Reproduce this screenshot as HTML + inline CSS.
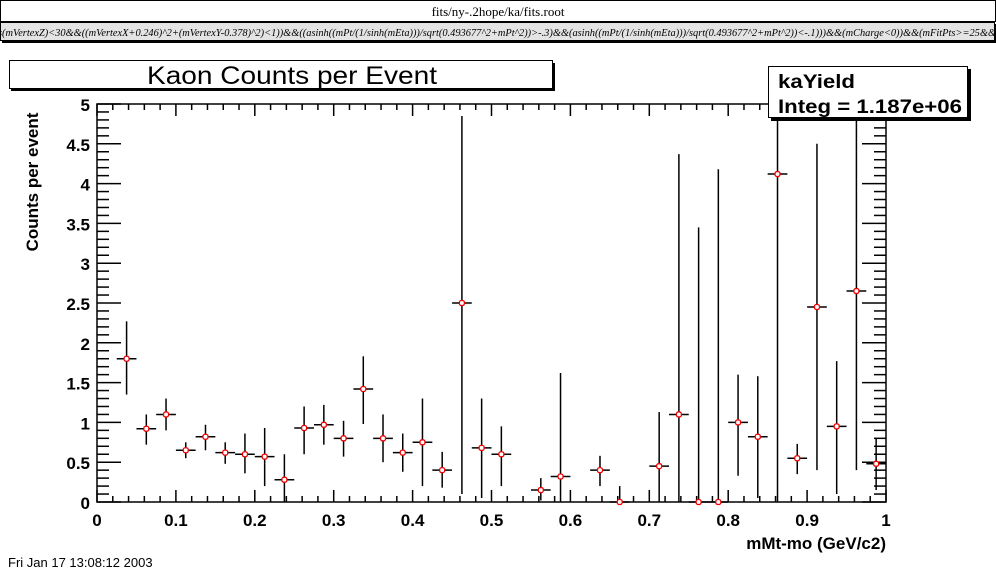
<!DOCTYPE html>
<html><head><meta charset="utf-8"><style>
body{margin:0;background:#fff;width:996px;height:572px;overflow:hidden}
svg{display:block}
text{font-family:"Liberation Sans",sans-serif}
</style></head><body>
<svg id="s" width="996" height="572" xmlns="http://www.w3.org/2000/svg">
<rect x="0" y="0" width="996" height="572" fill="#fff"/>
<rect x="0.5" y="0.5" width="995" height="21" fill="#fff" stroke="#000"/>
<text x="498" y="16" font-size="13" text-anchor="middle" style="font-family:'Liberation Serif',serif">fits/ny-.2hope/ka/fits.root</text>
<rect x="2" y="24" width="994" height="19" fill="#000"/>
<rect x="0.5" y="22.5" width="994" height="18" fill="#e4e4e4" stroke="#000"/>
<text x="-2" y="36" font-size="10" font-style="italic" textLength="998" lengthAdjust="spacingAndGlyphs" style="font-family:'Liberation Serif',serif">s(mVertexZ)&lt;30&amp;&amp;((mVertexX+0.246)^2+(mVertexY-0.378)^2)&lt;1))&amp;&amp;((asinh((mPt/(1/sinh(mEta)))/sqrt(0.493677^2+mPt^2))&gt;-.3)&amp;&amp;(asinh((mPt/(1/sinh(mEta)))/sqrt(0.493677^2+mPt^2))&lt;-.1)))&amp;&amp;(mCharge&lt;0))&amp;&amp;(mFitPts&gt;=25&amp;&amp;</text>
<rect x="11" y="63" width="544" height="28" fill="#000"/>
<rect x="9.5" y="60.5" width="543" height="28" fill="#fff" stroke="#000"/>
<text x="292" y="84" font-size="25" text-anchor="middle" textLength="290" lengthAdjust="spacingAndGlyphs">Kaon Counts per Event</text>
<text transform="translate(38,182) rotate(-90)" font-size="17" font-weight="bold" text-anchor="middle">Counts per event</text>
<text x="886" y="549" font-size="17" font-weight="bold" text-anchor="end">mMt-mo (GeV/c2)</text>
<text x="8" y="567" font-size="13">Fri Jan 17 13:08:12 2003</text>
<g id="g" stroke="#000" stroke-width="1.5" fill="none"></g>
<g id="t" font-size="17" font-weight="bold"></g>
<rect x="771" y="69" width="200" height="52" fill="#000"/>
<rect x="768.5" y="66.5" width="199" height="51" fill="#fff" stroke="#000"/>
<text x="778" y="88" font-size="19" font-weight="bold" textLength="77" lengthAdjust="spacingAndGlyphs">kaYield</text>
<text x="778" y="113" font-size="19" font-weight="bold" textLength="184" lengthAdjust="spacingAndGlyphs">Integ = 1.187e+06</text>
</svg>
<script>
var g=document.getElementById('g'),t=document.getElementById('t'),NS='http://www.w3.org/2000/svg';
var X0=97,X1=886,Y0=502,Y1=104;
function X(v){return X0+(X1-X0)*v}function Y(v){return Y0-(Y0-Y1)*v/5}
function L(a,b,c,d,col,w){var l=document.createElementNS(NS,'line');l.setAttribute('x1',a);l.setAttribute('y1',b);l.setAttribute('x2',c);l.setAttribute('y2',d);if(col)l.setAttribute('stroke',col);if(w)l.setAttribute('stroke-width',w);g.appendChild(l)}
function T(x,y,s,a){var e=document.createElementNS(NS,'text');e.setAttribute('x',x);e.setAttribute('y',y);e.setAttribute('text-anchor',a);e.textContent=s;t.appendChild(e)}
var r=document.createElementNS(NS,'rect');r.setAttribute('x',X0);r.setAttribute('y',Y1);r.setAttribute('width',X1-X0);r.setAttribute('height',Y0-Y1);g.appendChild(r);
for(var i=0;i<=50;i++){var x=X(i/50),h=(i%5==0)?12:6;L(x,Y0,x,Y0-h);L(x,Y1,x,Y1+h);}
for(var i=0;i<=10;i++)T(X(i/10),526,i==10?'1':i==0?'0':(i/10).toFixed(1),'middle');
for(var i=0;i<=50;i++){var y=Y(i/10),h=(i%5==0)?24:12;L(X0,y,X0+h,y);L(X1,y,X1-h,y);}
for(var i=0;i<=10;i++){var v=i/2;T(90,Y(v)+7,v==Math.floor(v)?String(v):v.toFixed(1),'end');}
var d=[[.0375,1.8,1.35,2.27],[.0625,.92,.72,1.1],[.0875,1.1,.9,1.3],[.1125,.65,.55,.75],[.1375,.82,.65,.97],[.1625,.62,.48,.75],[.1875,.6,.36,.86],[.2125,.57,.2,.93],[.2375,.28,0,.6],[.2625,.93,.6,1.2],[.2875,.97,.72,1.22],[.3125,.8,.57,1.02],[.3375,1.42,.98,1.83],[.3625,.8,.5,1.1],[.3875,.62,.38,.86],[.4125,.75,.2,1.3],[.4375,.4,.18,.63],[.4625,2.5,.1,4.85],[.4875,.68,.05,1.3],[.5125,.6,.2,.95],[.5625,.15,.02,.3],[.5875,.32,0,1.62],[.6375,.4,.2,.58],[.6625,0,0,.2],[.7125,.45,0,1.13],[.7375,1.1,0,4.37],[.7625,0,0,3.45],[.7875,0,0,4.18],[.8125,1.0,.33,1.6],[.8375,.82,.05,1.58],[.8625,4.12,0,5],[.8875,.55,.35,.73],[.9125,2.45,.4,4.5],[.9375,.95,.1,1.77],[.9625,2.65,.4,5],[.9875,.48,.15,.8]];
d.forEach(function(p){var x=X(p[0]),y=Y(p[1]);L(x,Y(p[2]),x,Y(p[3]));L(X(p[0]-.0125),y,X(p[0]+.0125),y);
var c=document.createElementNS(NS,'rect');c.setAttribute('x',x-2.5);c.setAttribute('y',y-2.5);c.setAttribute('width',5);c.setAttribute('height',5);c.setAttribute('rx',2);c.setAttribute('fill','#fff');c.setAttribute('stroke','#e00');c.setAttribute('stroke-width','1.3');g.appendChild(c);});
</script>
</body></html>
